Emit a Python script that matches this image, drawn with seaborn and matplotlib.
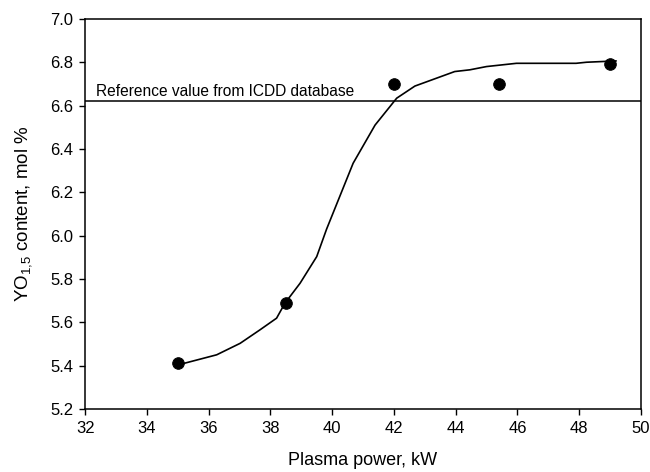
import matplotlib
matplotlib.use("Agg")
import matplotlib.pyplot as plt
import seaborn as sns
import pandas as pd

sns.set_theme(style="ticks")
plt.rcParams['font.family'] = ['Liberation Sans', 'DejaVu Sans']
plt.rcParams['mathtext.fontset'] = 'custom'
plt.rcParams['mathtext.rm'] = 'Liberation Sans'
plt.rcParams['mathtext.it'] = 'Liberation Sans'
plt.rcParams['mathtext.default'] = 'regular'
plt.rcParams['text.color'] = 'black'
plt.rcParams['axes.labelcolor'] = 'black'
plt.rcParams['xtick.color'] = 'black'
plt.rcParams['ytick.color'] = 'black'

# measured points
power = [35.0, 38.5, 42.0, 45.4, 49.0]
content = [5.41, 5.69, 6.70, 6.70, 6.79]

# fitted curve
curve_x = [35.0, 36.26, 37.02, 37.66, 38.2, 38.47, 38.96, 39.5, 39.82, 40.68,
           41.39, 42.09, 42.68, 43.97, 44.46, 45.0, 45.97, 47.9, 48.24, 49.2]
curve_y = [5.403, 5.45, 5.503, 5.565, 5.619, 5.688, 5.78, 5.903, 6.03, 6.334,
           6.51, 6.634, 6.69, 6.757, 6.765, 6.78, 6.795, 6.795, 6.80, 6.806]

ref_value = 6.62
ref_label = "Reference value from ICDD database"

x_ticks = [32, 34, 36, 38, 40, 42, 44, 46, 48, 50]
y_ticks = [5.2, 5.4, 5.6, 5.8, 6.0, 6.2, 6.4, 6.6, 6.8, 7.0]

fig = plt.figure(figsize=(6.5, 4.72), dpi=100)
ax = fig.add_axes([0.131, 0.1335, 0.855, 0.8265])

sns.lineplot(x=curve_x, y=curve_y, ax=ax, color="black", linewidth=1.2, sort=False)
sns.scatterplot(x=power, y=content, ax=ax, color="black", s=70, edgecolor="black", zorder=3)
ax.axhline(ref_value, color="black", linewidth=1.1)
ax.text(32.36, ref_value + 0.012, ref_label, fontsize=11.2, ha="left", va="bottom", color="black")

ax.set_xlim(32, 50)
ax.set_ylim(5.2, 7.0)
ax.set_xticks(x_ticks)
ax.set_yticks(y_ticks)
ax.set_xticklabels([str(t) for t in x_ticks])
ax.set_yticklabels([f"{t:.1f}" for t in y_ticks])
ax.tick_params(axis="both", direction="out", length=4.5, width=1, labelsize=12,
               color="black", labelcolor="black", pad=4)
for s in ax.spines.values():
    s.set_visible(True)
    s.set_color("black")
    s.set_linewidth(1.1)

ax.set_xlabel("Plasma power, kW", fontsize=13, labelpad=12, color="black")
ax.set_ylabel("YO$_{1{,}5}$ content, mol %", fontsize=13.5, labelpad=12, color="black")

fig.savefig("out.png", dpi=100)
